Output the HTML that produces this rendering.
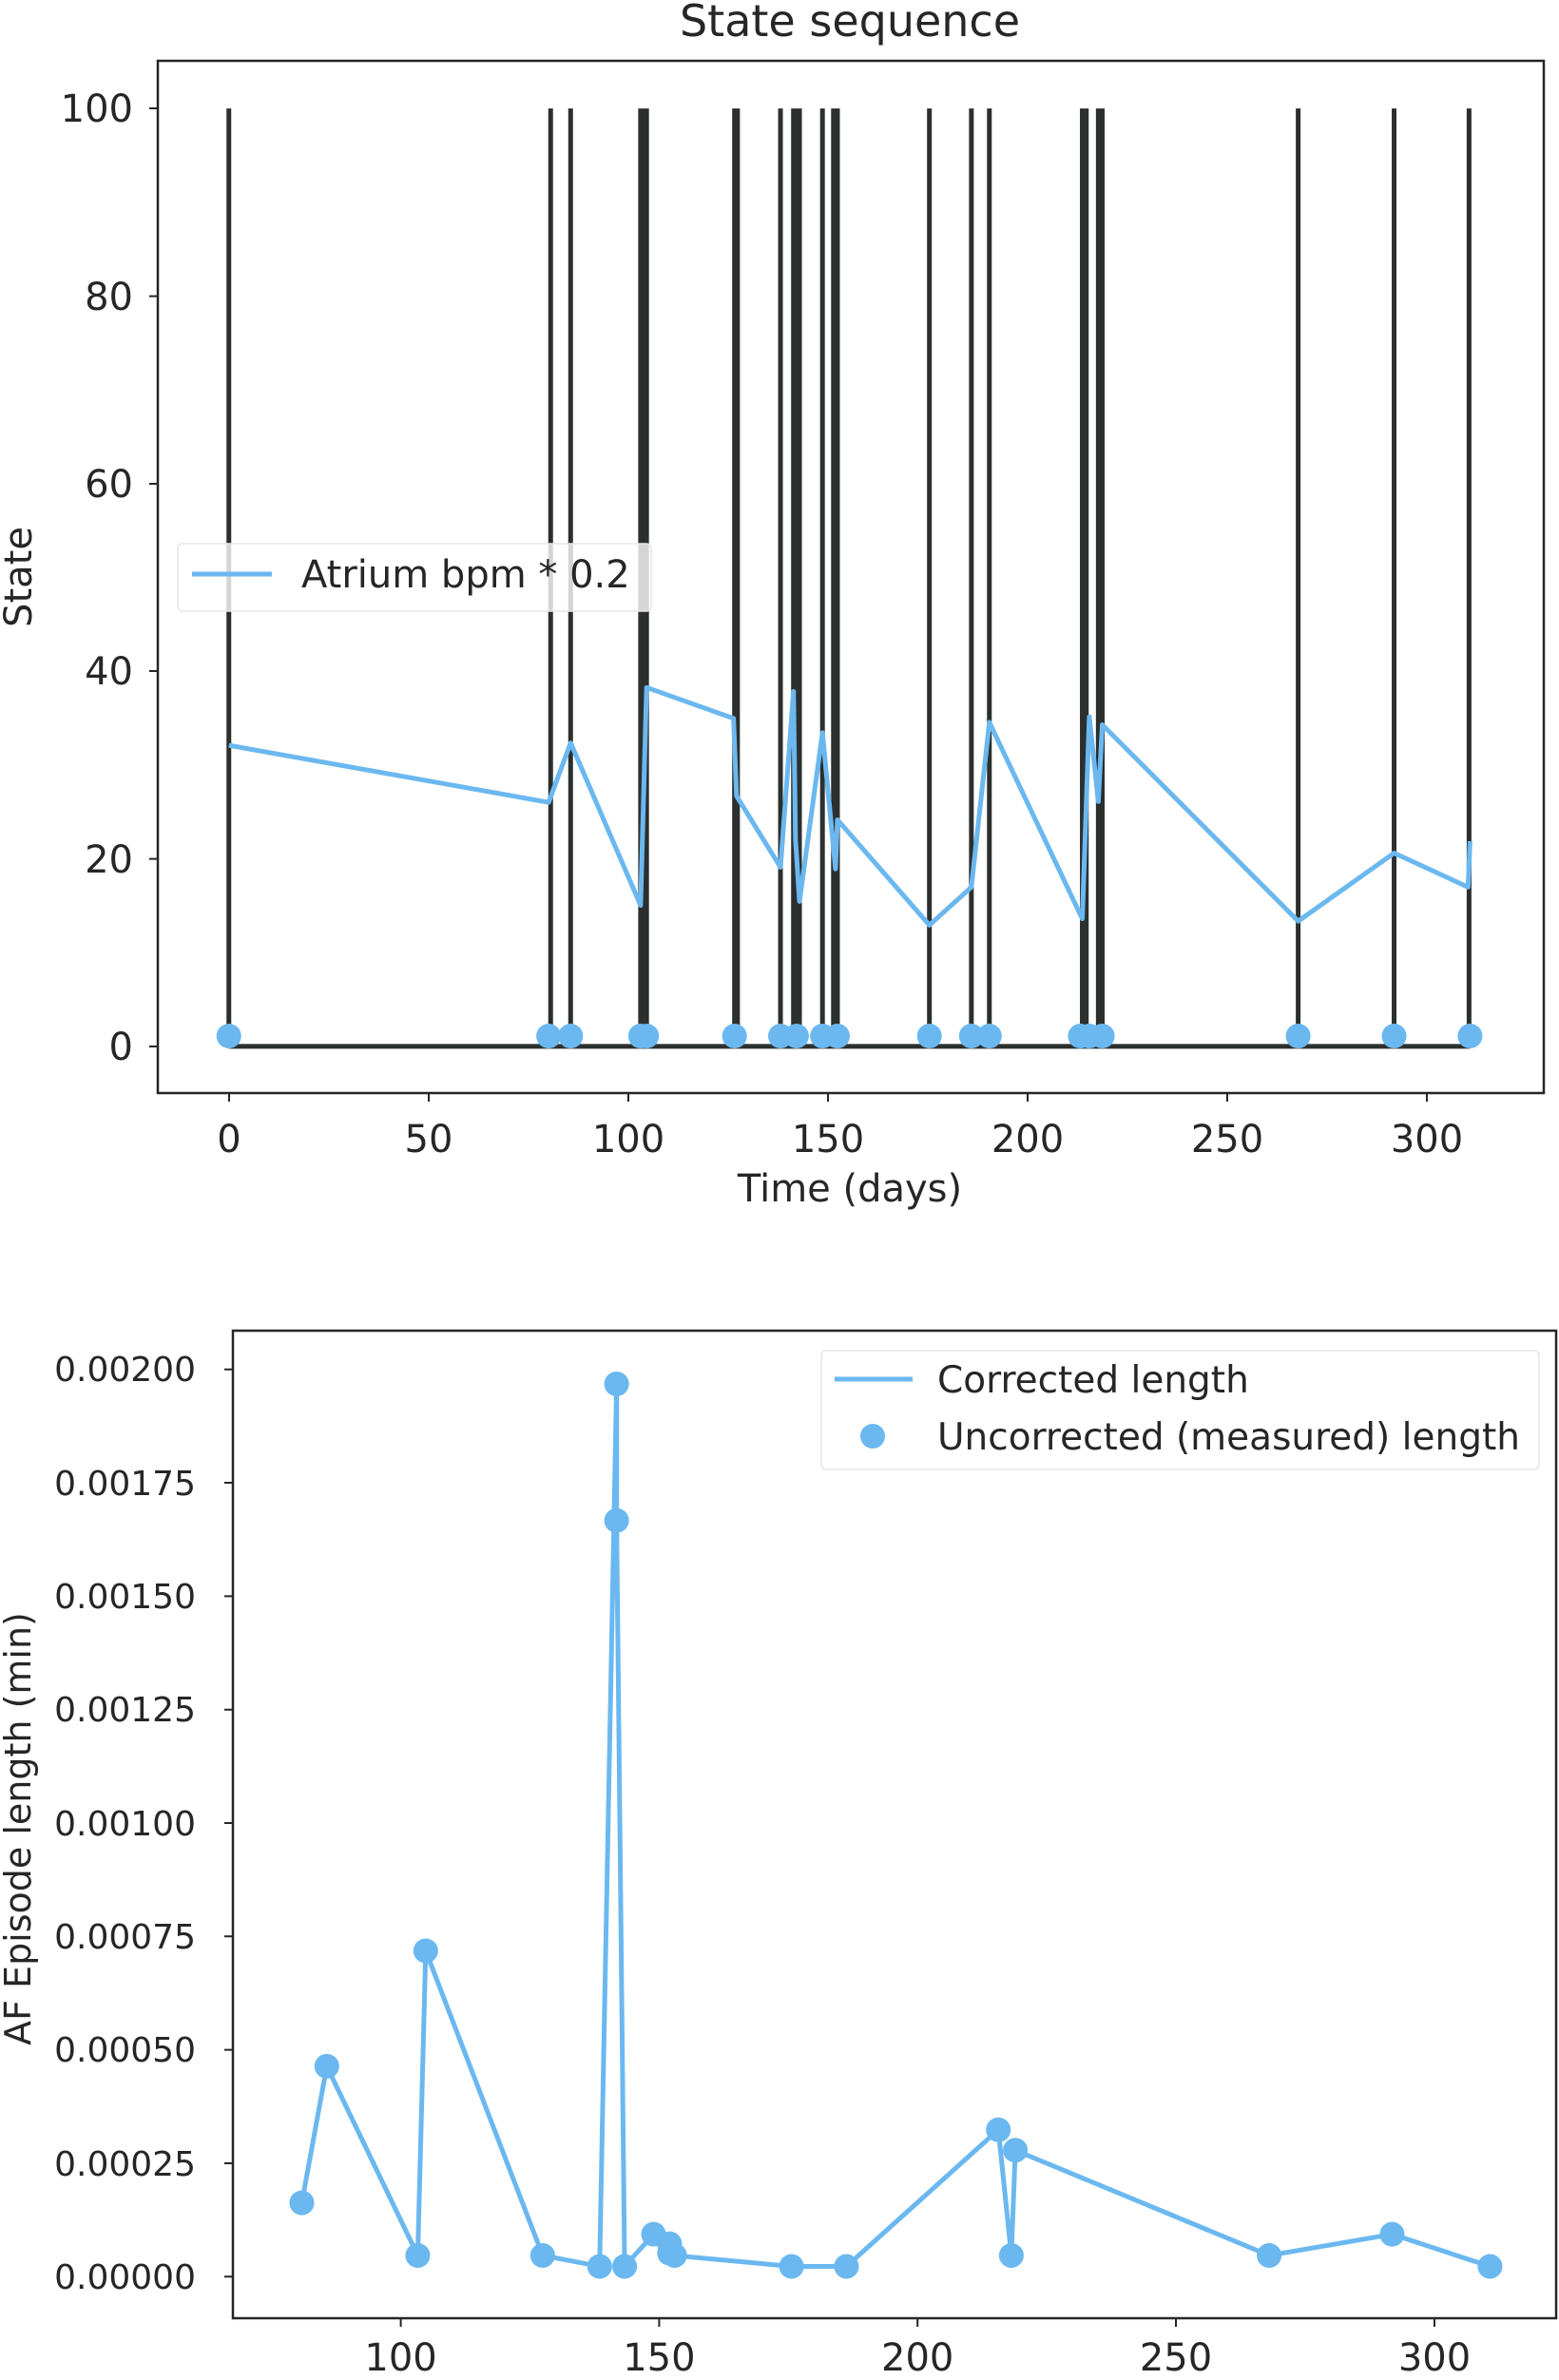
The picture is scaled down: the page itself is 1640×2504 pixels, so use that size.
<!DOCTYPE html>
<html><head><meta charset="utf-8"><style>
body{margin:0;background:#fff}
svg text{font-family:"DejaVu Sans","Liberation Sans",sans-serif;fill:#262626}
</style></head><body>
<svg width="1640" height="2499" viewBox="0 0 1640 2499" xmlns="http://www.w3.org/2000/svg">
<rect width="1640" height="2499" fill="#fff"/>
<!-- TOP CHART -->
<text x="894" y="38" font-size="46" text-anchor="middle">State sequence</text>
<g transform="scale(1.05128,0.83333)">
 <g stroke="#2b302f" stroke-width="5" fill="none">
  <path vector-effect="non-scaling-stroke" d="M229,137V1321M551,137V1321M571,137V1321M641,137V1321M645,137V1321M647,137V1321M735,137V1321M738,137V1321M781,137V1321M794,137V1321M798,137V1321M800,137V1321M823,137V1321M834,137V1321M838,137V1321M930,137V1321M972,137V1321M990,137V1321M1083,137V1321M1087,137V1321M1099,137V1321M1103,137V1321M1299,137V1321M1395,137V1321M1470,137V1321M229,1321H1471"/>
 </g>
 <path vector-effect="non-scaling-stroke" fill="none" stroke="#6bb8f0" stroke-width="5" stroke-linejoin="round" d="M229,941L549,1013L571,938L641,1143L647,868L734,907L737,1005L781,1095L794,873L796,1060L800,1138L823,925L836,1097L838,1035L930,1168L972,1120L990,912L1083,1160L1090,905L1099,1012L1103,915L1299,1163L1395,1077L1469,1120L1471,1062"/>
 <g fill="#6bb8f0">
  <ellipse cx="229" cy="1308" rx="12.4" ry="15.6"/><ellipse cx="549" cy="1308" rx="12.4" ry="15.6"/><ellipse cx="571" cy="1308" rx="12.4" ry="15.6"/><ellipse cx="641" cy="1308" rx="12.4" ry="15.6"/><ellipse cx="647" cy="1308" rx="12.4" ry="15.6"/><ellipse cx="735" cy="1308" rx="12.4" ry="15.6"/><ellipse cx="781" cy="1308" rx="12.4" ry="15.6"/><ellipse cx="797" cy="1308" rx="12.4" ry="15.6"/><ellipse cx="823" cy="1308" rx="12.4" ry="15.6"/><ellipse cx="838" cy="1308" rx="12.4" ry="15.6"/><ellipse cx="930" cy="1308" rx="12.4" ry="15.6"/><ellipse cx="972" cy="1308" rx="12.4" ry="15.6"/><ellipse cx="990" cy="1308" rx="12.4" ry="15.6"/><ellipse cx="1081" cy="1308" rx="12.4" ry="15.6"/><ellipse cx="1090" cy="1308" rx="12.4" ry="15.6"/><ellipse cx="1103" cy="1308" rx="12.4" ry="15.6"/><ellipse cx="1299" cy="1308" rx="12.4" ry="15.6"/><ellipse cx="1395" cy="1308" rx="12.4" ry="15.6"/><ellipse cx="1471" cy="1308" rx="12.4" ry="15.6"/>
 </g>
</g>
<rect x="166" y="64" width="1458" height="1086" fill="none" stroke="#262626" stroke-width="2.5"/>
<g stroke="#262626" stroke-width="2">
 <path d="M166,1101h-9M166,903.6h-9M166,706h-9M166,509h-9M166,311.6h-9M166,114h-9"/>
 <path d="M241,1150v9M451,1150v9M661,1150v9M871,1150v9M1081,1150v9M1291,1150v9M1501,1150v9"/>
</g>
<g font-size="40" text-anchor="end">
 <text x="140" y="1115">0</text><text x="140" y="918">20</text><text x="140" y="720">40</text><text x="140" y="523">60</text><text x="140" y="326">80</text><text x="140" y="128">100</text>
</g>
<g font-size="40" text-anchor="middle">
 <text x="241" y="1212">0</text><text x="451" y="1212">50</text><text x="661" y="1212">100</text><text x="871" y="1212">150</text><text x="1081" y="1212">200</text><text x="1291" y="1212">250</text><text x="1501" y="1212">300</text>
 <text x="894" y="1264">Time (days)</text>
 <text transform="translate(33,607) rotate(-90)">State</text>
</g>
<rect x="187" y="572" width="498" height="71" rx="5" fill="#fff" fill-opacity="0.8" stroke="#e6e6e6" stroke-width="1.5"/>
<path d="M202,604H286" stroke="#6bb8f0" stroke-width="5"/>
<text x="317" y="618" font-size="40">Atrium bpm * 0.2</text>

<!-- BOTTOM CHART -->
<g transform="translate(0,1300) scale(1.05128,0.76859)">
 <path vector-effect="non-scaling-stroke" fill="none" stroke="#6bb8f0" stroke-width="5" stroke-linejoin="round" d="M302,1324L327,1137L418,1396L426,979L543,1396L600,1411L617,203L617,390L625,1411L654,1367L670,1380L670,1393L675,1396L792,1411L847,1411L999,1224L1012,1396L1016,1252L1270,1396L1393,1367L1491,1411"/>
 <g fill="#6bb8f0">
  <ellipse cx="302" cy="1324" rx="12.4" ry="16.9"/><ellipse cx="327" cy="1137" rx="12.4" ry="16.9"/><ellipse cx="418" cy="1396" rx="12.4" ry="16.9"/><ellipse cx="426" cy="979" rx="12.4" ry="16.9"/><ellipse cx="543" cy="1396" rx="12.4" ry="16.9"/><ellipse cx="600" cy="1411" rx="12.4" ry="16.9"/><ellipse cx="617" cy="203" rx="12.4" ry="16.9"/><ellipse cx="617" cy="390" rx="12.4" ry="16.9"/><ellipse cx="625" cy="1411" rx="12.4" ry="16.9"/><ellipse cx="654" cy="1367" rx="12.4" ry="16.9"/><ellipse cx="670" cy="1380" rx="12.4" ry="16.9"/><ellipse cx="670" cy="1393" rx="12.4" ry="16.9"/><ellipse cx="675" cy="1396" rx="12.4" ry="16.9"/><ellipse cx="792" cy="1411" rx="12.4" ry="16.9"/><ellipse cx="847" cy="1411" rx="12.4" ry="16.9"/><ellipse cx="999" cy="1224" rx="12.4" ry="16.9"/><ellipse cx="1012" cy="1396" rx="12.4" ry="16.9"/><ellipse cx="1016" cy="1252" rx="12.4" ry="16.9"/><ellipse cx="1270" cy="1396" rx="12.4" ry="16.9"/><ellipse cx="1393" cy="1367" rx="12.4" ry="16.9"/><ellipse cx="1491" cy="1411" rx="12.4" ry="16.9"/>
 </g>
</g>
<rect x="245" y="1400" width="1392" height="1039" fill="none" stroke="#262626" stroke-width="2.5"/>
<g stroke="#262626" stroke-width="2">
 <path d="M245,2395.3h-9M245,2276h-9M245,2156.6h-9M245,2037.3h-9M245,1918h-9M245,1798.7h-9M245,1679.4h-9M245,1560h-9M245,1440.7h-9"/>
 <path d="M421.6,2439v9M693.4,2439v9M965.2,2439v9M1237,2439v9M1509,2439v9"/>
</g>
<g font-size="36" text-anchor="end">
 <text x="206" y="2408">0.00000</text><text x="206" y="2289">0.00025</text><text x="206" y="2169">0.00050</text><text x="206" y="2050">0.00075</text><text x="206" y="1931">0.00100</text><text x="206" y="1811">0.00125</text><text x="206" y="1692">0.00150</text><text x="206" y="1573">0.00175</text><text x="206" y="1453">0.00200</text>
</g>
<g font-size="40" text-anchor="middle">
 <text x="421.6" y="2494">100</text><text x="693.4" y="2494">150</text><text x="965.2" y="2494">200</text><text x="1237" y="2494">250</text><text x="1509" y="2494">300</text>
 <text transform="translate(32,1924) rotate(-90)" font-size="38">AF Episode length (min)</text>
</g>
<rect x="864" y="1421" width="755" height="125" rx="5" fill="#fff" fill-opacity="0.8" stroke="#e6e6e6" stroke-width="1.5"/>
<path d="M878,1451H960" stroke="#6bb8f0" stroke-width="5"/>
<circle cx="918" cy="1511" r="13" fill="#6bb8f0"/>
<text x="986" y="1465" font-size="39">Corrected length</text>
<text x="986" y="1525" font-size="39">Uncorrected (measured) length</text>
</svg>
</body></html>
